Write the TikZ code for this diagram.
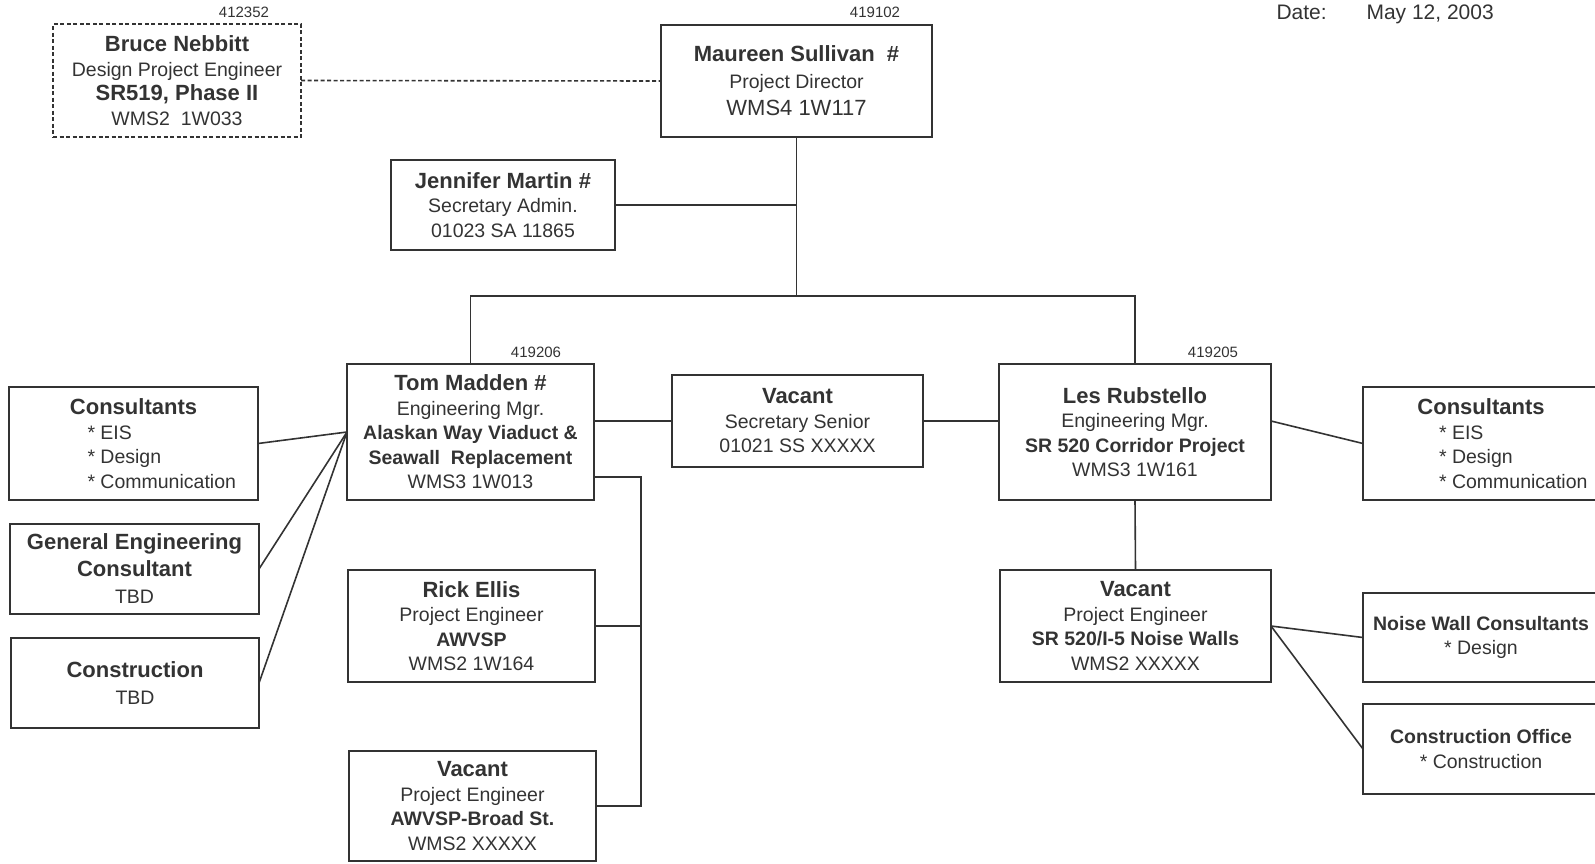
\documentclass[tikz,border=0pt]{standalone}
\usepackage{fontspec}
\setmainfont{Liberation Sans}
\colorlet{inkcol}{black!80}
\tikzstyle{post}=[draw=inkcol,line width=1.6pt,inner sep=0pt,outer sep=0pt,align=center,text=inkcol,font=\fontsize{19.5}{24.5}\selectfont]
\tikzstyle{link}=[draw=inkcol,line width=1.6pt]
\tikzstyle{posno}=[text=inkcol,font=\fontsize{15}{15}\selectfont]
\newcommand{\pname}[1]{{\fontsize{22}{24.5}\selectfont\bfseries #1}}
\newcommand{\bitem}[2]{\makebox[#1][l]{* #2}}

\begin{document}
\begin{tikzpicture}[x=1pt,y=-1pt]
  \useasboundingbox (0,0) rectangle (1595,863);
  \clip (0,0) rectangle (1595,863);
  % Director and staff
  \node[post,minimum width=248pt,minimum height=113pt,dash pattern=on 4pt off 2.5pt] (bruce) at (177,80.5)
    {\pname{Bruce Nebbitt}\\Design Project Engineer\\\pname{SR519, Phase II}\\WMS2~~1W033};
  \node[post,minimum width=271pt,minimum height=112pt,font=\fontsize{19.5}{27}\selectfont] (maureen) at (796.5,81)
    {\pname{Maureen Sullivan~~\#}\\Project Director\\{\fontsize{22}{27}\selectfont WMS4 1W117}};
  \node[post,minimum width=224pt,minimum height=90pt] (jennifer) at (503,205)
    {\pname{Jennifer Martin \#}\\Secretary Admin.\\01023 SA 11865};
  % Engineering managers
  \node[post,minimum width=247pt,minimum height=136pt] (tom) at (470.5,432)
    {\pname{Tom Madden \#}\\Engineering Mgr.\\\textbf{Alaskan Way Viaduct \&}\\\textbf{Seawall~~Replacement}\\WMS3 1W013};
  \node[post,minimum width=251pt,minimum height=92pt] (vacsec) at (797.5,421)
    {\pname{Vacant}\\Secretary Senior\\01021 SS XXXXX};
  \node[post,minimum width=272pt,minimum height=136pt] (les) at (1135,432)
    {\pname{Les Rubstello}\\Engineering Mgr.\\\textbf{SR 520 Corridor Project}\\WMS3 1W161};
  % Project engineers
  \node[post,minimum width=247pt,minimum height=112pt] (rick) at (471.5,626)
    {\pname{Rick Ellis}\\Project Engineer\\\textbf{AWVSP}\\WMS2 1W164};
  \node[post,minimum width=247pt,minimum height=110pt] (vacawv) at (472.5,806)
    {\pname{Vacant}\\Project Engineer\\\textbf{AWVSP-Broad St.}\\WMS2 XXXXX};
  \node[post,minimum width=271pt,minimum height=112pt] (vacsr) at (1135.5,626)
    {\pname{Vacant}\\Project Engineer\\\textbf{SR 520/I-5 Noise Walls}\\WMS2 XXXXX};
  % Consultants
  \node[post,minimum width=249pt,minimum height=113pt] (consl) at (133.5,443.5)
    {\pname{Consultants}\\\bitem{92pt}{EIS}\\\bitem{92pt}{Design}\\\bitem{92pt}{Communication}};
  \node[post,minimum width=249pt,minimum height=90pt,font=\fontsize{19.5}{27}\selectfont] (gec) at (134.5,569)
    {\pname{General Engineering}\\\pname{Consultant}\\TBD};
  \node[post,minimum width=248pt,minimum height=90pt,font=\fontsize{19.5}{27}\selectfont] (constr) at (135,683)
    {\pname{Construction}\\TBD};
  \node[post,minimum width=236pt,minimum height=113pt] (consr) at (1481,443.5)
    {\pname{Consultants}\\\bitem{84pt}{EIS}\\\bitem{84pt}{Design}\\\bitem{84pt}{Communication}};
  \node[post,minimum width=236pt,minimum height=89pt] (noise) at (1481,637.5)
    {\textbf{Noise Wall Consultants}\\* Design};
  \node[post,minimum width=236pt,minimum height=90pt] (cofc) at (1481,749)
    {\textbf{Construction Office}\\* Construction};
  % Position numbers and date
  \node[posno] (n412352) at (244,12) {412352};
  \node[posno] (n419102) at (875,12) {419102};
  \node[posno] (n419206) at (536,352) {419206};
  \node[posno] (n419205) at (1213,352) {419205};
  \node[anchor=base west,text=inkcol,font=\fontsize{21}{21}\selectfont] (datelbl) at (1273,19) {Date:};
  \node[anchor=base west,text=inkcol,font=\fontsize{21}{21}\selectfont] (dateval) at (1363,19) {May 12, 2003};
  % Connectors
  \coordinate (hub) at (796.5,296);
  \coordinate (abus) at (641,477);
  \draw[link,dash pattern=on 4pt off 2.5pt] (bruce.east) -- (maureen.west);
  \draw[link] (maureen.south) -- (hub);
  \draw[link] (jennifer.east) -- (jennifer.east -| hub);
  \draw[link] (tom.north) |- (hub) -| (les.north);
  \draw[link] (tom.east |- vacsec.west) -- (vacsec.west);
  \draw[link] (vacsec.east) -- (vacsec.east -| les.west);
  \draw[link] (tom.east |- abus) -- (abus) |- (vacawv.east);
  \draw[link] (rick.east) -- (rick.east -| abus);
  \draw[link] (les.south) -- (vacsr.north);
  \foreach \c in {consl,gec,constr} \draw[link] (tom.west) -- (\c.east);
  \draw[link] ([yshift=11pt]les.east) -- (consr.west);
  \foreach \c in {noise,cofc} \draw[link] (vacsr.east) -- (\c.west);
\end{tikzpicture}
\end{document}
